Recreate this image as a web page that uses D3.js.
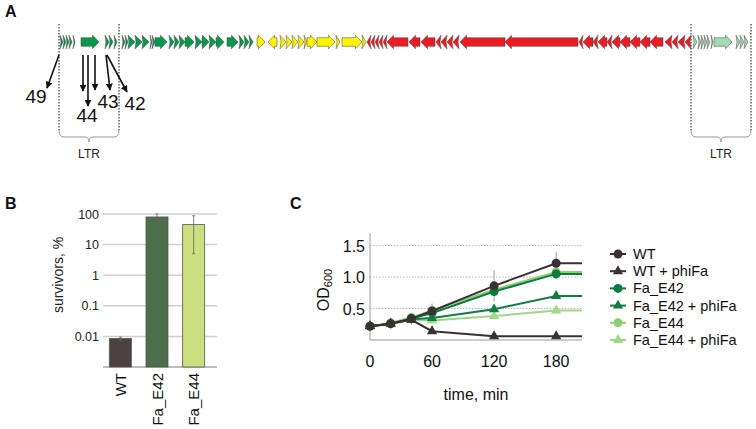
<!DOCTYPE html>
<html><head><meta charset="utf-8">
<script src="https://cdn.jsdelivr.net/npm/d3@7"></script>
<style>body{margin:0;background:#fff} text{font-family:"Liberation Sans",Arial,sans-serif}</style>
</head><body><svg id="c" width="756" height="429"></svg>
<script>
// ---------- Panel A: genome map (positions in kb) ----------
const geneStart = [0.10,0.25,0.40,0.55,0.75,1.15,2.35,2.55,2.80,
  3.20,3.35,3.50,3.85,4.20,4.60,4.70,4.85,5.55,5.80,6.05,6.35,6.85,7.20,7.55,7.90,8.45,9.05,9.30,9.55,
  9.95,10.50,11.10,11.40,11.70,12.00,12.30,12.45,12.95,13.90,14.20,15.20,
  15.45,15.65,15.85,16.05,16.25,16.45,17.55,18.15,18.90,19.15,19.45,19.75,20.10,22.35,
  26.05,26.25,26.75,27.00,27.45,27.70,28.10,28.60,29.10,29.60,30.35,30.70,31.00,31.35,
  31.75,32.00,32.15,32.30,32.45,32.65,32.80,33.90,34.10,34.30];
const geneEnd = [0.25,0.40,0.55,0.70,0.85,2.05,2.55,2.75,2.95,
  3.35,3.50,3.85,4.20,4.55,4.70,4.85,5.45,5.80,6.05,6.35,6.80,7.20,7.55,7.90,8.30,9.00,9.30,9.55,9.75,
  10.35,10.95,11.40,11.70,12.00,12.30,12.45,12.95,13.85,14.10,15.20,15.40,
  15.65,15.85,16.05,16.25,16.45,17.50,18.10,18.85,19.15,19.45,19.75,20.05,22.35,26.00,
  26.25,26.75,27.00,27.45,27.70,28.10,28.60,29.10,29.60,30.25,30.70,31.00,31.35,31.65,
  31.95,32.15,32.30,32.45,32.60,32.75,33.70,34.10,34.30,34.50];
const geneStrand = [1,1,1,1,1,1,1,1,1,
  1,1,1,1,1,1,1,1,1,1,1,1,1,1,1,1,1,1,1,1,
  1,-1,1,1,1,1,1,1,1,1,1,1,
  -1,-1,-1,-1,-1,-1,-1,-1,-1,-1,-1,-1,-1,-1,
  -1,-1,-1,-1,-1,-1,-1,-1,-1,-1,-1,-1,-1,-1,
  1,1,1,1,1,1,1,1,1,1];
const geneGroup = ["g","g","g","g","g","g","g","g","g",
  "g","g","g","g","g","g","g","g","g","g","g","g","g","g","g","g","g","g","g","g",
  "y","y","y","y","y","y","y","y","y","y","y","y",
  "r","r","r","r","r","r","r","r","r","r","r","r","r","r",
  "r","r","r","r","r","r","r","r","r","r","r","r","r","r",
  "l","l","l","l","l","l","l","l","l","l"];
const ltrStart = [0.05, 31.65];
const ltrEnd = [3.05, 34.65];
const insertionLabels = ["49","44","43","42"];
const insertionSites = [[0.05],[1.25,1.50,1.85],[2.40],[2.45]];

// ---------- Panel B: survival ----------
const strains = ["WT","Fa_E42","Fa_E44"];
const survivors = [0.0085, 80, 45];
const survLow = [0.0075, 55, 5];
const survHigh = [0.0095, 100, 88];
const survTicks = [0.01, 0.1, 1, 10, 100];
const survTickLabels = ["0.01","0.1","1","10","100"];

// ---------- Panel C: growth curves ----------
const times = [0, 20, 40, 60, 120, 180];
const seriesNames = ["WT","WT + phiFa","Fa_E42","Fa_E42 + phiFa","Fa_E44","Fa_E44 + phiFa"];
const odWT          = [0.22, 0.26, 0.34, 0.46, 0.86, 1.22];
const odWTphi       = [0.22, 0.26, 0.32, 0.14, 0.06, 0.06];
const odE42         = [0.22, 0.26, 0.34, 0.43, 0.77, 1.05];
const odE42phi      = [0.22, 0.26, 0.33, 0.35, 0.49, 0.70];
const odE44         = [0.22, 0.27, 0.36, 0.47, 0.80, 1.08];
const odE44phi      = [0.21, 0.25, 0.32, 0.31, 0.38, 0.47];
const errWT         = [0.07, 0.08, 0.09, 0.12, 0.25, 0.18];
const errWTphi      = [0.06, 0.06, 0.07, 0.03, 0.01, 0.01];
const errE42        = [0.05, 0.05, 0.06, 0.06, 0.06, 0.08];
const errE42phi     = [0.04, 0.04, 0.05, 0.04, 0.03, 0.03];
const errE44        = [0.05, 0.05, 0.06, 0.06, 0.05, 0.04];
const errE44phi     = [0.04, 0.04, 0.04, 0.03, 0.03, 0.03];
const odTicksY = [0.5, 1.0, 1.5];
const odTicksX = [0, 60, 120, 180];

const svg = d3.select("#c");

// panel letters
[["A",5,17],["B",5,209],["C",290,209]].forEach(([t,x,y]) =>
  svg.append("text").attr("x",x).attr("y",y).attr("font-size",16).attr("font-weight","bold").attr("fill","#111").text(t));

// ===== Panel A =====
const gx = d3.scaleLinear().domain([0, 34.7]).range([58, 752]);
const yc = 42;
const groupColor = {g:"#07994a", y:"#fff200", r:"#ec1c24", l:"#a3d9b5"};
function genePath(s, e, strand) {
  let x1 = gx(s), x2 = gx(e);
  const len = x2 - x1, hh = 6.8, bh = 4.3, hl = Math.min(6.5, len);
  if (strand < 0) {
    if (len <= 7) return "M" + [[x2,yc-hh],[x1,yc],[x2,yc+hh],[x2-1,yc]].join("L") + "Z";
    const p = [[x2, yc-bh],[x1+hl, yc-bh],[x1+hl, yc-hh],[x1, yc],[x1+hl, yc+hh],[x1+hl, yc+bh],[x2, yc+bh]];
    return "M" + p.join("L") + "Z";
  } else {
    if (len <= 7) return "M" + [[x1,yc-hh],[x2,yc],[x1,yc+hh],[x1+1,yc]].join("L") + "Z";
    const p = [[x1, yc-bh],[x2-hl, yc-bh],[x2-hl, yc-hh],[x2, yc],[x2-hl, yc+hh],[x2-hl, yc+bh],[x1, yc+bh]];
    return "M" + p.join("L") + "Z";
  }
}
// LTR dotted lines & braces
ltrStart.forEach((s, i) => {
  const a = gx(s), b = gx(ltrEnd[i]), m = (a + b) / 2;
  [a, b].forEach(x => svg.append("line").attr("x1",x).attr("x2",x).attr("y1",24).attr("y2",130)
    .attr("stroke","#555").attr("stroke-width",1.4).attr("stroke-dasharray","1.4,1.6"));
  svg.append("path")
    .attr("d", `M${a},130 Q${a},137 ${a+5},137 L${m-4},137 Q${m},137 ${m},142 Q${m},137 ${m+4},137 L${b-5},137 Q${b},137 ${b},130`)
    .attr("fill","none").attr("stroke","#999").attr("stroke-width",1);
  svg.append("text").attr("x",m).attr("y",158).attr("text-anchor","middle").attr("font-size",12).attr("fill","#222").text("LTR");
});
svg.append("g").selectAll("path").data(geneStart).join("path")
  .attr("d", (d,i) => genePath(d, geneEnd[i], geneStrand[i]))
  .attr("fill", (d,i) => groupColor[geneGroup[i]])
  .attr("stroke", "#444").attr("stroke-width", 0.5).attr("stroke-linejoin","round");

// insertion arrows
svg.append("defs").append("marker").attr("id","ah").attr("viewBox","0 0 10 10").attr("refX",9).attr("refY",5)
  .attr("markerUnits","userSpaceOnUse").attr("markerWidth",7).attr("markerHeight",7).attr("orient","auto")
  .append("path").attr("d","M0,0L10,5L0,10Z").attr("fill","#111");
// arrow tip offsets (layout) and label positions relative to first site
const arrowTips = [[[-12,88]],[[0,91],[0,106],[0,90]],[[4,90]],[[20,92]]];
const labelPos = [[-23,103],[4,122],[2,108],[28,110]];
insertionSites.forEach((sites, k) => {
  sites.forEach((s, j) => {
    const x0 = gx(s), tip = arrowTips[k][j];
    svg.append("line").attr("x1",x0).attr("y1",55).attr("x2",x0+tip[0]).attr("y2",tip[1])
      .attr("stroke","#111").attr("stroke-width",1.6).attr("marker-end","url(#ah)");
  });
  svg.append("text").attr("x", gx(sites[0]) + labelPos[k][0]).attr("y", labelPos[k][1])
    .attr("text-anchor","middle").attr("font-size",19).attr("fill","#111").text(insertionLabels[k]);
});

// ===== Panel B =====
const by = d3.scaleLog().domain([0.001, 100]).range([367, 214]);
const bx = d3.scaleBand().domain(strains).range([102, 212]).paddingInner(0.4).paddingOuter(0.2);
const barColors = ["#4b413f","#4c6e48","#cadf80"];
svg.append("g").selectAll("line").data(survTicks).join("line")
  .attr("x1",103).attr("x2",217).attr("y1",d=>by(d)).attr("y2",d=>by(d)).attr("stroke","#d0d0d0").attr("stroke-width",1.5);
svg.append("line").attr("x1",103).attr("x2",217).attr("y1",by(0.001)).attr("y2",by(0.001)).attr("stroke","#aaa").attr("stroke-width",1.5);
svg.append("g").selectAll("text").data(survTicks).join("text")
  .attr("x",99).attr("y",d=>by(d)+4.5).attr("text-anchor","end").attr("font-size",12.5).attr("fill","#222")
  .text((d,i)=>survTickLabels[i]);
svg.append("g").selectAll("rect").data(survivors).join("rect")
  .attr("x",(d,i)=>bx(strains[i])).attr("width",bx.bandwidth())
  .attr("y",d=>by(d)).attr("height",d=>by(0.001)-by(d))
  .attr("fill",(d,i)=>barColors[i]).attr("stroke","#555").attr("stroke-width",0.8);
strains.forEach((s,i)=>{
  const cxp = bx(s)+bx.bandwidth()/2;
  svg.append("line").attr("x1",cxp).attr("x2",cxp).attr("y1",by(survLow[i])).attr("y2",by(survHigh[i])).attr("stroke","#666").attr("stroke-width",0.8);
  [survLow[i], survHigh[i]].forEach(v=>svg.append("line").attr("x1",cxp-1.5).attr("x2",cxp+1.5).attr("y1",by(v)).attr("y2",by(v)).attr("stroke","#666").attr("stroke-width",0.8));
  svg.append("text").attr("transform",`translate(${cxp+5.5},373) rotate(-90)`).attr("text-anchor","end")
    .attr("font-size",15).attr("fill","#111").text(s);
});
svg.append("text").attr("transform","translate(63,275) rotate(-90)").attr("text-anchor","middle")
  .attr("font-size",14).attr("fill","#222").text("survivors, %");

// ===== Panel C =====
const cx = d3.scaleLinear().domain([0, 205]).range([370, 582]);
const cy = d3.scaleLinear().domain([0, 1.7]).range([340, 233]);
svg.append("g").selectAll("line").data(odTicksY).join("line")
  .attr("x1",370).attr("x2",582).attr("y1",d=>cy(d)).attr("y2",d=>cy(d))
  .attr("stroke","#b5b5b5").attr("stroke-width",1).attr("stroke-dasharray","1.5,1.5");
svg.append("line").attr("x1",370).attr("x2",370).attr("y1",cy(1.7)).attr("y2",cy(0)).attr("stroke","#999").attr("stroke-width",1);
svg.append("line").attr("x1",370).attr("x2",582).attr("y1",cy(0)).attr("y2",cy(0)).attr("stroke","#999").attr("stroke-width",1);
svg.append("g").selectAll("text").data(odTicksY).join("text")
  .attr("x",365).attr("y",d=>cy(d)+6).attr("text-anchor","end").attr("font-size",16).attr("fill","#111").text(d=>d.toFixed(1));
svg.append("g").selectAll("text").data(odTicksX).join("text")
  .attr("x",d=>cx(d)).attr("y",367).attr("text-anchor","middle").attr("font-size",16).attr("fill","#111").text(d=>d);
svg.append("text").attr("x",476).attr("y",400).attr("text-anchor","middle").attr("font-size",16).attr("fill","#111").text("time, min");
const odLab = svg.append("text").attr("transform","translate(329,290) rotate(-90)").attr("text-anchor","middle").attr("font-size",16).attr("fill","#111");
odLab.append("tspan").text("OD");
odLab.append("tspan").attr("font-size",11).attr("dy",3).text("600");

const seriesVals = [odWT, odWTphi, odE42, odE42phi, odE44, odE44phi];
const seriesErr = [errWT, errWTphi, errE42, errE42phi, errE44, errE44phi];
const seriesColor = ["#3a3232","#3a3232","#0c7a3e","#137c43","#8fd077","#a0d68a"];
const seriesShape = ["c","t","c","t","c","t"];
const drawOrder = [5,4,3,2,1,0];
const line = d3.line().x(d=>cx(d[0])).y(d=>cy(d[1]));
function marker(g, x, y, shape, color, size) {
  if (shape === "c") g.append("circle").attr("cx",x).attr("cy",y).attr("r",size).attr("fill",color);
  else g.append("path").attr("d",d3.symbol(d3.symbolTriangle, size*size*2.6)()).attr("transform",`translate(${x},${y})`).attr("fill",color);
}
drawOrder.forEach(k=>{
  times.forEach((t,i)=>{
    const v = seriesVals[k][i], e = seriesErr[k][i];
    svg.append("line").attr("x1",cx(t)).attr("x2",cx(t)).attr("y1",cy(v-e)).attr("y2",cy(v+e)).attr("stroke","#888").attr("stroke-width",0.8);
  });
});
drawOrder.forEach(k=>{
  const pts = times.map((t,i)=>[t, seriesVals[k][i]]);
  pts.push([205, seriesVals[k][times.length-1]]);
  svg.append("path").attr("d", line(pts)).attr("fill","none").attr("stroke",seriesColor[k]).attr("stroke-width",2);
  const g = svg.append("g");
  times.forEach((t,i)=> marker(g, cx(t), cy(seriesVals[k][i]), seriesShape[k], seriesColor[k], seriesShape[k]==="c"?4.5:4.2));
});
// legend
seriesNames.forEach((n,k)=>{
  const y = 254 + k*17.2;
  svg.append("line").attr("x1",610).attr("x2",626).attr("y1",y).attr("y2",y).attr("stroke",seriesColor[k]).attr("stroke-width",2);
  marker(svg, 618, y, seriesShape[k], seriesColor[k], seriesShape[k]==="c"?4.5:4.2);
  svg.append("text").attr("x",633).attr("y",y+5).attr("font-size",14.5).attr("fill","#111").text(n);
});
</script></body></html>
